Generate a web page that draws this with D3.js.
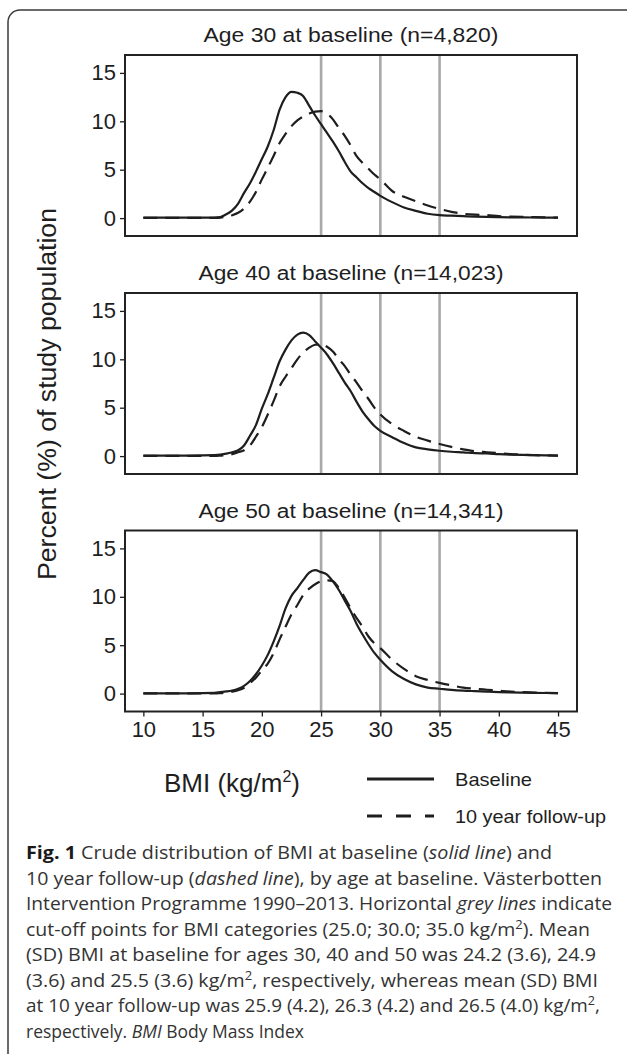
<!DOCTYPE html>
<html>
<head>
<meta charset="utf-8">
<script src="https://cdn.jsdelivr.net/npm/d3@7"></script>
<style>
  html, body { margin: 0; padding: 0; background: #fff; }
  svg { display: block; }
</style>
</head>
<body>
<script>
// DATA
// BMI grid (kg/m2) shared by every curve
var bmiGrid = [10, 12, 14, 16, 16.5, 17, 17.5, 18, 18.5, 19, 19.5, 20, 20.5, 21, 21.5, 22, 22.5, 23, 23.5, 24, 24.5,
  25, 25.5, 26, 26.5, 27, 27.5, 28, 28.5, 29, 29.5, 30, 31, 32, 33, 34, 35, 36, 37, 38, 39, 40, 41, 42, 43, 44, 45];

// percent of study population
var base30 = [0.05, 0.05, 0.05, 0.05, 0.1, 0.4, 0.8, 1.5, 2.6, 3.6, 4.8, 6.1, 7.4, 9.1, 11.2, 12.5, 13.05, 12.95, 12.6, 11.6, 10.6,
  9.7, 8.8, 7.9, 6.9, 5.8, 4.8, 4.2, 3.6, 3.1, 2.7, 2.3, 1.65, 1.1, 0.75, 0.45, 0.3, 0.25, 0.2, 0.15, 0.12, 0.1, 0.08, 0.07, 0.06, 0.05, 0.05];
var fu30 = [0.02, 0.02, 0.02, 0.02, 0.05, 0.15, 0.3, 0.55, 1.0, 1.7, 2.7, 4.0, 5.2, 6.45, 7.75, 8.7, 9.5, 10.1, 10.5, 10.8, 11.0,
  11.05, 10.8, 10.2, 9.3, 8.5, 7.5, 6.4, 5.7, 5.1, 4.5, 4.0, 2.8, 2.2, 1.75, 1.3, 0.95, 0.65, 0.45, 0.35, 0.3, 0.2, 0.15, 0.12, 0.1, 0.07, 0.05];
var base40 = [0.05, 0.05, 0.05, 0.1, 0.15, 0.25, 0.4, 0.6, 1.1, 2.1, 3.2, 4.9, 6.4, 8.1, 9.8, 11.0, 11.95, 12.55, 12.75, 12.5, 11.85,
  11.2, 10.5, 9.6, 8.6, 7.6, 6.7, 5.6, 4.6, 3.8, 3.1, 2.6, 1.95, 1.35, 0.9, 0.7, 0.55, 0.45, 0.38, 0.3, 0.27, 0.2, 0.15, 0.12, 0.1, 0.07, 0.05];
var fu40 = [0.02, 0.02, 0.02, 0.02, 0.05, 0.1, 0.2, 0.4, 0.6, 1.1, 2.0, 3.0, 4.3, 5.7, 7.2, 8.2, 9.1, 10.0, 10.7, 11.2, 11.5,
  11.55, 11.3, 10.8, 10.0, 9.3, 8.4, 7.6, 6.7, 5.9, 5.0, 4.3, 3.3, 2.6, 2.0, 1.6, 1.25, 0.95, 0.7, 0.5, 0.4, 0.3, 0.2, 0.15, 0.1, 0.07, 0.05];
var base50 = [0.03, 0.03, 0.03, 0.08, 0.15, 0.22, 0.32, 0.5, 0.8, 1.3, 2.0, 2.9, 4.0, 5.4, 7.0, 8.8, 10.1, 10.9, 11.75, 12.5, 12.75,
  12.55, 12.3, 11.6, 10.7, 9.6, 8.5, 7.2, 6.1, 5.1, 4.2, 3.5, 2.3, 1.5, 0.95, 0.62, 0.5, 0.38, 0.3, 0.25, 0.2, 0.15, 0.12, 0.1, 0.08, 0.06, 0.05];
var fu50 = [0.02, 0.02, 0.02, 0.02, 0.05, 0.1, 0.2, 0.35, 0.6, 1.1, 1.65, 2.4, 3.1, 4.2, 5.6, 6.9, 8.2, 9.15, 10.2, 10.85, 11.3,
  11.6, 11.7, 11.6, 10.9, 9.9, 8.8, 7.8, 6.9, 5.9, 5.2, 4.7, 3.5, 2.55, 1.8, 1.4, 1.1, 0.85, 0.62, 0.5, 0.4, 0.3, 0.2, 0.15, 0.1, 0.07, 0.05];

var panelTitles = ["Age 30 at baseline (n=4,820)", "Age 40 at baseline (n=14,023)", "Age 50 at baseline (n=14,341)"];
var yTicks = [0, 5, 10, 15];
var xTicks = [10, 15, 20, 25, 30, 35, 40, 45];
var cutoffs = [25, 30, 35];
var legendLabels = ["Baseline", "10 year follow-up"];

// caption lines; [text, style] pieces
var caption = [
  [["Fig. 1", "b"], [" Crude distribution of BMI at baseline ("], ["solid line", "i"], [") and"]],
  [["10 year follow-up ("], ["dashed line", "i"], ["), by age at baseline. Västerbotten"]],
  [["Intervention Programme 1990–2013. Horizontal "], ["grey lines", "i"], [" indicate"]],
  [["cut-off points for BMI categories (25.0; 30.0; 35.0 kg/m"], ["2", "sup"], ["). Mean"]],
  [["(SD) BMI at baseline for ages 30, 40 and 50 was 24.2 (3.6), 24.9"]],
  [["(3.6) and 25.5 (3.6) kg/m"], ["2", "sup"], [", respectively, whereas mean (SD) BMI"]],
  [["at 10 year follow-up was 25.9 (4.2), 26.3 (4.2) and 26.5 (4.0) kg/m"], ["2", "sup"], [","]],
  [["respectively. "], ["BMI", "i"], [" Body Mass Index"]]
];
var captionWidths = [526, 576, 586, 564, 570, 572, 574, 278];

var panels = [
  {title: panelTitles[0], base: base30, fu: fu30},
  {title: panelTitles[1], base: base40, fu: fu40},
  {title: panelTitles[2], base: base50, fu: fu50}
];

// D3
var svg = d3.select("body").append("svg")
  .attr("width", 627)
  .attr("height", 1054);

svg.append("rect").attr("width", 627).attr("height", 1054).attr("fill", "#fff");

// outer frame (runs off the right and bottom edges)
svg.append("rect")
  .attr("x", 8).attr("y", 10)
  .attr("width", 700).attr("height", 1100)
  .attr("rx", 12)
  .attr("fill", "none")
  .attr("stroke", "#3a3a3a")
  .attr("stroke-width", 1.5);

var sansFont = "'Liberation Sans', Arial, Helvetica, sans-serif";
var ink = "#1e1e1e";

var box = {left: 125, right: 577, height: 181};
var panelTops = [55, 293, 530.5];

var x = d3.scaleLinear().domain([8.45, 46.6]).range([box.left, box.right]);

var line = function(y) {
  return d3.line()
    .x(function(d, i) { return x(bmiGrid[i]); })
    .y(function(d) { return y(d); })
    .curve(d3.curveMonotoneX);
};

panels.forEach(function(p, k) {
  var top = panelTops[k];
  var y = d3.scaleLinear().domain([-1.85, 16.85]).range([top + box.height, top]);
  var g = svg.append("g");

  g.append("text")
    .attr("x", (box.left + box.right) / 2)
    .attr("y", top - 13)
    .attr("text-anchor", "middle")
    .attr("font-family", sansFont)
    .attr("font-size", 20)
    .attr("fill", ink)
    .attr("textLength", k === 0 ? 295 : 305)
    .attr("lengthAdjust", "spacingAndGlyphs")
    .text(p.title);

  // grey cut-off lines
  g.selectAll(".cut").data(cutoffs).enter().append("line")
    .attr("x1", function(d) { return x(d); })
    .attr("x2", function(d) { return x(d); })
    .attr("y1", top).attr("y2", top + box.height)
    .attr("stroke", "#a9a9a9")
    .attr("stroke-width", 2.6);

  g.append("path").datum(p.fu)
    .attr("d", line(y))
    .attr("fill", "none")
    .attr("stroke", ink)
    .attr("stroke-width", 2.2)
    .attr("stroke-dasharray", "14,8");

  g.append("path").datum(p.base)
    .attr("d", line(y))
    .attr("fill", "none")
    .attr("stroke", ink)
    .attr("stroke-width", 2.2);

  // y axis
  var ya = g.append("g")
    .attr("transform", "translate(" + box.left + ",0)")
    .call(d3.axisLeft(y).tickValues(yTicks).tickSize(5).tickPadding(4));
  ya.select(".domain").remove();
  ya.selectAll("line").attr("stroke", ink).attr("stroke-width", 1.3);
  ya.selectAll("text").attr("font-family", sansFont).attr("font-size", 22).attr("fill", ink);

  if (k === 2) {
    var xa = g.append("g")
      .attr("transform", "translate(0," + (top + box.height) + ")")
      .call(d3.axisBottom(x).tickValues(xTicks).tickSize(5).tickPadding(5));
    xa.select(".domain").remove();
    xa.selectAll("line").attr("stroke", ink).attr("stroke-width", 1.3);
    xa.selectAll("text").attr("font-family", sansFont).attr("font-size", 22).attr("fill", ink);
  }

  // plot border
  g.append("rect")
    .attr("x", box.left).attr("y", top)
    .attr("width", box.right - box.left).attr("height", box.height)
    .attr("fill", "none")
    .attr("stroke", "#222")
    .attr("stroke-width", 2);
});

// y axis title
svg.append("text")
  .attr("transform", "translate(56,394) rotate(-90)")
  .attr("text-anchor", "middle")
  .attr("font-family", sansFont)
  .attr("font-size", 25)
  .attr("fill", ink)
  .attr("textLength", 372)
  .attr("lengthAdjust", "spacingAndGlyphs")
  .text("Percent (%) of study population");

// x axis title
var xt = svg.append("text")
  .attr("x", 164).attr("y", 792)
  .attr("font-family", sansFont)
  .attr("font-size", 26)
  .attr("fill", ink);
xt.append("tspan").text("BMI (kg/m");
xt.append("tspan").attr("dy", -10).attr("font-size", 16).text("2");
xt.append("tspan").attr("dy", 10).text(")");

// legend
var legY = [779, 816];
legendLabels.forEach(function(lab, i) {
  svg.append("line")
    .attr("x1", 367).attr("x2", 434)
    .attr("y1", legY[i]).attr("y2", legY[i])
    .attr("stroke", ink)
    .attr("stroke-width", 3)
    .attr("stroke-dasharray", i === 1 ? "15,14" : null);
  svg.append("text")
    .attr("x", 455).attr("y", legY[i] + 7)
    .attr("font-family", sansFont)
    .attr("font-size", 19)
    .attr("fill", ink)
    .attr("textLength", i === 0 ? 77 : 151)
    .attr("lengthAdjust", "spacingAndGlyphs")
    .text(lab);
});

// caption
caption.forEach(function(parts, i) {
  var t = svg.append("text")
    .attr("x", 26).attr("y", 859 + i * 25.5)
    .attr("font-family", "'Open Sans', 'Noto Sans', sans-serif")
    .attr("font-size", 18)
    .attr("fill", "#333")
    .attr("textLength", captionWidths[i])
    .attr("lengthAdjust", "spacingAndGlyphs");
  var lifted = false;
  parts.forEach(function(pt) {
    var s = t.append("tspan").text(pt[0]);
    if (lifted) { s.attr("dy", 7); lifted = false; }
    if (pt[1] === "b") s.attr("font-weight", "bold").attr("fill", "#1a1a1a");
    if (pt[1] === "i") s.attr("font-style", "italic");
    if (pt[1] === "sup") { s.attr("dy", -7).attr("font-size", 12); lifted = true; }
  });
});
</script>
</body>
</html>
